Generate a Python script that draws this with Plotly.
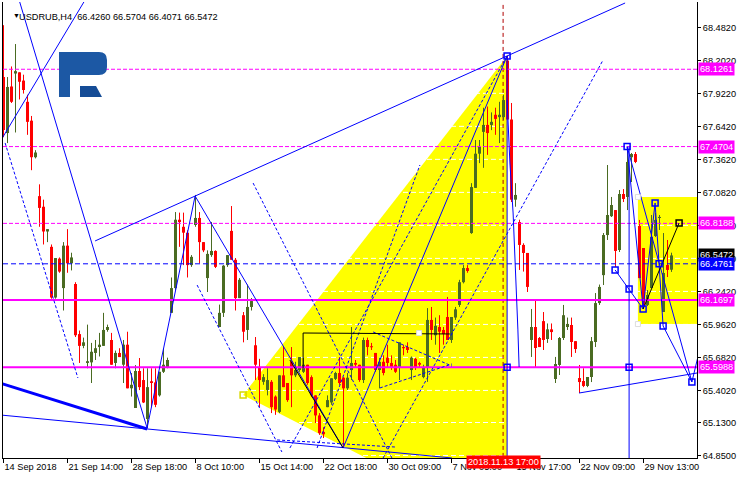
import plotly.graph_objects as go

# ---------------- candle data (USDRUB, H4) ----------------
opens = [68.06, 67.585, 67.98, 68.09, 68.10, 68.03, 67.85, 67.69, 67.38, 67.05,
         66.96, 66.75, 66.62, 66.19, 66.52, 66.27, 66.63, 66.48, 66.305, 65.88,
         65.78, 65.635, 65.64, 65.72, 65.77, 65.78, 65.915, 65.83, 65.635, 65.72,
         65.62, 65.79, 65.42, 65.253, 65.567, 65.49, 65.16, 65.48, 65.47, 65.36,
         65.56, 65.60, 66.06, 66.27, 66.85, 66.79, 66.74, 66.465, 66.805, 66.865,
         66.66, 66.355, 66.55, 66.585, 65.94, 66.06, 66.465, 66.755, 66.51, 66.185,
         66.04, 65.915, 66.11, 65.785, 65.60, 65.475, 65.406, 65.475, 65.35, 65.22,
         65.53, 65.465, 65.645, 65.53, 65.575, 65.56, 65.62, 65.515, 65.36, 65.19,
         65.05, 65.26, 65.30, 65.50, 65.55, 65.51, 65.42, 65.575, 65.635, 65.62,
         65.49, 65.83, 65.775, 65.72, 65.575, 65.645, 65.68, 65.635, 65.62, 65.60,
         65.77, 65.77, 65.575, 65.67, 65.635, 65.515, 65.60, 66.00, 65.87, 65.94,
         65.915, 66.025, 65.83, 66.02, 66.127, 66.32, 66.44, 66.737, 67.12, 67.41,
         67.595, 67.654, 67.654, 67.74, 67.72, 67.72, 68.20, 67.70, 67.02, 66.83,
         66.636, 66.568, 65.83, 65.94, 65.847, 65.99, 65.838, 65.92, 65.499, 65.618,
         65.847, 65.94, 65.957, 65.82, 65.507, 65.482, 65.44, 65.516, 65.813, 66.143,
         66.38, 66.72, 66.88, 66.932, 66.593, 67.068, 67.043, 67.38, 67.407, 66.797,
         66.61, 66.127, 66.271, 66.712, 66.865, 66.067, 66.466, 66.4260]
highs = [68.50, 68.06, 68.15, 68.34, 68.10, 68.08, 67.91, 67.73, 67.44, 67.15,
         67.02, 66.77, 66.64, 66.525, 66.53, 66.66, 66.77, 66.57, 66.32, 65.91,
         65.85, 65.96, 65.805, 65.83, 65.89, 66.06, 65.96, 65.89, 65.74, 65.76,
         65.83, 65.90, 65.55, 65.617, 65.677, 65.59, 65.59, 65.59, 65.59, 65.56,
         65.76, 65.68, 66.36, 66.915, 66.91, 66.91, 66.76, 66.55, 67.06, 66.915,
         66.66, 66.59, 66.83, 66.59, 66.13, 66.465, 66.55, 66.966, 66.525, 66.355,
         66.067, 66.30, 66.186, 65.855, 65.67, 65.54, 65.59, 65.49, 65.36, 65.53,
         65.77, 65.465, 65.77, 65.645, 65.685, 65.68, 65.62, 65.53, 65.36, 65.21,
         65.09, 65.36, 65.505, 65.56, 65.685, 65.515, 65.55, 65.94, 65.66, 65.62,
         65.85, 65.85, 65.805, 65.72, 65.68, 65.70, 65.79, 65.70, 65.66, 65.81,
         65.79, 65.81, 65.69, 65.68, 65.645, 65.62, 66.10, 66.11, 66.02, 66.04,
         65.94, 66.195, 66.025, 66.11, 66.34, 66.465, 66.465, 67.16, 67.526, 67.526,
         67.80, 67.81, 67.76, 67.80, 67.85, 67.91, 68.24, 67.84, 67.16, 66.85,
         66.65, 66.568, 66.093, 66.17, 65.855, 66.067, 65.97, 65.97, 65.686, 65.855,
         66.127, 66.02, 66.02, 65.82, 65.618, 65.59, 65.516, 65.855, 66.228, 66.30,
         66.737, 67.314, 67.043, 66.932, 67.102, 67.11, 67.4704, 67.416, 67.424, 66.848,
         66.61, 66.254, 66.89, 66.907, 66.89, 66.737, 66.678, 66.5704]
lows = [67.55, 67.50, 67.84, 67.59, 67.87, 67.92, 67.57, 67.27, 67.37, 66.79,
        66.64, 66.66, 66.18, 66.18, 66.40, 66.08, 66.40, 66.42, 65.855, 65.635,
        65.76, 65.59, 65.465, 65.66, 65.69, 65.78, 65.90, 65.62, 65.59, 65.685,
        65.465, 65.42, 65.35, 65.253, 65.405, 65.295, 65.08, 65.26, 65.26, 65.35,
        65.55, 65.59, 66.06, 66.255, 66.62, 66.465, 66.36, 66.45, 66.79, 66.48,
        66.575, 66.237, 66.535, 66.44, 65.94, 66.025, 66.45, 66.51, 66.08, 66.185,
        65.81, 65.83, 66.08, 65.49, 65.26, 65.45, 65.36, 65.21, 65.195, 65.21,
        65.43, 65.305, 65.26, 65.515, 65.56, 65.55, 65.45, 65.345, 65.125, 65.025,
        64.998, 65.26, 65.28, 65.49, 65.45, 64.914, 65.406, 65.49, 65.60, 65.475,
        65.465, 65.70, 65.745, 65.56, 65.42, 65.53, 65.60, 65.575, 65.55, 65.49,
        65.70, 65.72, 65.49, 65.575, 65.60, 65.505, 65.475, 65.83, 65.79, 65.72,
        65.79, 65.83, 65.805, 66.00, 66.11, 66.31, 66.40, 66.73, 67.12, 67.33,
        67.29, 67.40, 67.61, 67.57, 67.50, 67.696, 67.70, 67.00, 66.96, 66.424,
        66.41, 66.237, 65.686, 65.60, 65.77, 65.745, 65.805, 65.83, 65.465, 65.533,
        65.83, 65.915, 65.686, 65.72, 65.38, 65.43, 65.43, 65.473, 65.77, 66.127,
        66.296, 66.678, 66.873, 66.449, 66.576, 67.00, 66.932, 67.17, 67.33, 66.355,
        66.11, 66.118, 66.271, 66.703, 66.763, 66.067, 66.364, 66.4071]
closes = [67.61, 67.976, 67.85, 68.11, 68.02, 67.95, 67.68, 67.38, 67.42, 66.95,
          66.75, 66.77, 66.19, 66.525, 66.41, 66.63, 66.48, 66.53, 65.87, 65.78,
          65.81, 65.65, 65.73, 65.76, 65.79, 65.915, 65.94, 65.62, 65.72, 65.685,
          65.79, 65.42, 65.45, 65.567, 65.43, 65.30, 65.43, 65.465, 65.28, 65.56,
          65.62, 65.66, 66.27, 66.85, 66.83, 66.74, 66.465, 66.535, 66.865, 66.66,
          66.59, 66.56, 66.585, 66.45, 66.06, 66.46, 66.55, 66.51, 66.185, 66.34,
          65.90, 66.11, 66.16, 65.62, 65.49, 65.515, 65.49, 65.26, 65.24, 65.53,
          65.43, 65.32, 65.53, 65.575, 65.685, 65.62, 65.465, 65.36, 65.19, 65.04,
          65.03, 65.32, 65.505, 65.55, 65.465, 65.42, 65.51, 65.635, 65.62, 65.49,
          65.83, 65.77, 65.77, 65.575, 65.645, 65.55, 65.635, 65.60, 65.56, 65.81,
          65.76, 65.745, 65.68, 65.60, 65.62, 65.60, 66.00, 65.915, 65.95, 65.90,
          65.88, 65.83, 66.025, 66.09, 66.32, 66.44, 66.415, 67.127, 67.41, 67.47,
          67.654, 67.585, 67.68, 67.705, 67.74, 67.865, 67.70, 67.02, 67.06, 66.636,
          66.568, 66.28, 65.94, 65.762, 65.77, 65.83, 65.92, 65.897, 65.626, 65.847,
          66.04, 65.966, 65.813, 65.753, 65.473, 65.44, 65.516, 65.82, 66.143, 66.28,
          66.72, 66.89, 66.975, 66.585, 67.068, 67.026, 67.34, 67.407, 67.34, 66.355,
          66.11, 66.211, 66.703, 66.848, 66.873, 66.398, 66.424, 66.5472]
bars = list(range(len(opens)))

symbol = "USDRUB,H4"
x_tick_bars = [0, 16, 32, 48, 64, 80, 96, 112, 128, 144, 160]
x_tick_labels = ["14 Sep 2018", "21 Sep 14:00", "28 Sep 18:00", "8 Oct 10:00",
                 "15 Oct 14:00", "22 Oct 18:00", "30 Oct 09:00", "7 Nov 05:00",
                 "15 Nov 17:00", "22 Nov 09:00", "29 Nov 13:00"]
y_tick_values = [68.4820, 68.2020, 67.9220, 67.6420, 67.3620, 67.0820, 66.8020,
                 66.5220, 66.2420, 65.9620, 65.6820, 65.4020, 65.1300, 64.8500]

levels_magenta_dashed = [68.1261, 67.4704, 66.8188]
level_blue_dashed = 66.4761
levels_magenta_solid = [66.1697, 65.5988]

marked_bar = 124.9
marked_label = "2018.11.13 17:00"

# ---------------- drawing objects (bar index, price) ----------------
yellow_triangle_x = [59.9, 125.9, 125.9]
yellow_triangle_y = [65.363, 68.239, 64.218]
yellow_box_x = [158.6, 176.0]
yellow_box_y = [65.965, 67.043]

blue_solid = [
    ([22.9, 155.4], [66.670, 68.688]),
    ([3.9, 35.9], [68.714, 65.083]),
    ([-0.9, 20.4], [67.509, 68.714]),
    ([-0.9, 112.1], [65.194, 64.829]),
    ([35.9, 47.9, 84.9, 125.9], [65.083, 67.051, 64.914, 68.239]),
    ([125.9, 125.9], [68.239, 64.5]),
    ([125.9, 126.6, 127.4, 127.9, 128.4, 128.6, 128.9],
     [67.866, 67.331, 66.907, 66.483, 66.195, 65.915, 65.601]),
    ([152.9, 159.9], [66.424, 66.093]),
    ([155.9, 159.9], [67.470, 66.093]),
    ([155.9, 172.1], [67.470, 65.474]),
    ([159.9, 162.9, 164.9, 172.1, 173.6], [66.093, 66.992, 65.949, 65.474, 65.686]),
    ([156.4, 156.4], [67.470, 64.5]),
    ([143.9, 173.4], [65.380, 65.550]),
]
blue_thick = [([-0.9, 35.9], [65.465, 65.075])]
blue_dashed = [
    ([0.4, 18.6], [67.501, 65.508]),
    ([48.4, 69.6], [66.296, 64.880]),
    ([62.4, 97.1], [67.161, 64.829]),
    ([94.9, 149.9], [64.829, 68.205]),
    ([71.6, 125.9], [64.914, 68.239]),
    ([78.4, 104.1], [64.914, 67.314]),
    ([92.4, 112.1], [65.898, 65.609]),
    ([94.1, 112.1], [65.423, 65.626]),
    ([68.4, 97.9], [64.982, 64.922]),
]
black_lines = [
    ([74.9, 111.6], [65.889, 65.881]),
    ([74.9, 74.9], [65.889, 65.592]),
    ([71.6, 84.9], [65.660, 64.914]),
    ([159.9, 168.9], [66.093, 66.822]),
]
blue_points_x = [125.9, 125.9, 155.9, 152.9, 156.4, 156.4, 159.9, 162.9, 163.9, 164.9, 172.1]
blue_points_y = [68.239, 65.599, 67.470, 66.424, 66.262, 65.599, 66.093, 66.992, 66.476, 65.949, 65.474]
white_points_x = [103.9, 158.6, 158.6]
white_points_y = [65.889, 67.043, 65.965]

GREEN = "#4a6b22"
RED = "#ff0000"
BLUE = "#0000ff"
MAGENTA = "#ff00ff"
FONT = "Liberation Sans"
FS = 9.2

X0, X1 = -0.125, 173.375
Y0, Y1 = 64.8289, 68.6966
MIN_BODY = 0.009  # about one pixel, so doji bodies stay visible

fig = go.Figure()

def seg(lines):
    xs, ys = [], []
    for lx, ly in lines:
        xs += list(lx) + [None]
        ys += list(ly) + [None]
    return xs, ys

# yellow areas
fig.add_trace(go.Scatter(x=yellow_triangle_x + [yellow_triangle_x[0]],
                         y=yellow_triangle_y + [yellow_triangle_y[0]],
                         fill="toself", fillcolor="#ffff00", mode="lines",
                         line=dict(width=0), hoverinfo="skip"))
fig.add_trace(go.Scatter(x=[yellow_box_x[0], yellow_box_x[1], yellow_box_x[1], yellow_box_x[0], yellow_box_x[0]],
                         y=[yellow_box_y[0], yellow_box_y[0], yellow_box_y[1], yellow_box_y[1], yellow_box_y[0]],
                         fill="toself", fillcolor="#ffff00", mode="lines",
                         line=dict(width=0), hoverinfo="skip"))
# white grid (visible only over yellow)
gx, gy = seg([([X0, X1], [v, v]) for v in y_tick_values])
fig.add_trace(go.Scatter(x=gx, y=gy, mode="lines",
                         line=dict(color="white", width=1, dash="5px,3px"), hoverinfo="skip"))

# marked time vertical
fig.add_trace(go.Scatter(x=[marked_bar, marked_bar], y=[Y0 - 1, Y1 + 1], mode="lines",
                         line=dict(color="#b00000", width=1, dash="4px,3px"), hoverinfo="skip"))

# candles: wicks + bodies (drawn as line segments on the price scale)
for up, color in [(True, GREEN), (False, RED)]:
    idx = [i for i in bars if (closes[i] > opens[i]) == up]
    wx, wy, bx, by = [], [], [], []
    for i in idx:
        wx += [i, i, None]
        wy += [lows[i], highs[i], None]
        lo, hi = min(opens[i], closes[i]), max(opens[i], closes[i])
        if hi - lo < MIN_BODY:
            mid = (hi + lo) / 2
            lo, hi = mid - MIN_BODY / 2, mid + MIN_BODY / 2
        bx += [i, i, None]
        by += [lo, hi, None]
    fig.add_trace(go.Scatter(x=wx, y=wy, mode="lines", line=dict(color=color, width=1),
                             hoverinfo="skip"))
    fig.add_trace(go.Scatter(x=bx, y=by, mode="lines", line=dict(color=color, width=3),
                             hoverinfo="skip"))

# horizontal levels
for v in levels_magenta_dashed:
    fig.add_trace(go.Scatter(x=[X0, X1], y=[v, v], mode="lines",
                             line=dict(color=MAGENTA, width=1, dash="4px,2px"), hoverinfo="skip"))
fig.add_trace(go.Scatter(x=[X0, X1], y=[level_blue_dashed] * 2, mode="lines",
                         line=dict(color=BLUE, width=1, dash="5px,3px"), hoverinfo="skip"))
for v in levels_magenta_solid:
    fig.add_trace(go.Scatter(x=[X0, X1], y=[v, v], mode="lines",
                             line=dict(color=MAGENTA, width=2), hoverinfo="skip"))

# drawing lines
for group, color, width, dash in [(blue_solid, BLUE, 1, "solid"),
                                  (blue_thick, BLUE, 3, "solid"),
                                  (blue_dashed, BLUE, 1, "3px,2px"),
                                  (black_lines, "black", 1, "solid")]:
    sx, sy = seg(group)
    fig.add_trace(go.Scatter(x=sx, y=sy, mode="lines",
                             line=dict(color=color, width=width, dash=dash), hoverinfo="skip"))

fig.add_trace(go.Scatter(x=blue_points_x, y=blue_points_y, mode="markers",
                         marker=dict(symbol="square-open", size=6, color=BLUE, line=dict(width=1.5)),
                         hoverinfo="skip", cliponaxis=False))
fig.add_trace(go.Scatter(x=white_points_x, y=white_points_y, mode="markers",
                         marker=dict(symbol="square", size=5, color="white", line=dict(width=1, color="#dddddd")),
                         hoverinfo="skip"))
fig.add_trace(go.Scatter(x=[168.9], y=[66.822], mode="markers",
                         marker=dict(symbol="square-open", size=6, color="black", line=dict(width=1.5)),
                         hoverinfo="skip"))
fig.add_trace(go.Scatter(x=[yellow_triangle_x[0]], y=[yellow_triangle_y[0]], mode="markers",
                         marker=dict(symbol="square-open", size=6, color="#d8d800", line=dict(width=1.5)),
                         hoverinfo="skip"))

# ---------------- logo (pixel-space decoration) ----------------
L, T, W, H = 3, 2, 694, 456
def P(px, py):
    return f"{(px - L) / W:.5f},{(T + H - py) / H:.5f}"
logo_main = (f"M{P(59,52)} L{P(99,52)} Q{P(107,52)} {P(107,60)} L{P(107,67)} "
             f"Q{P(107,75)} {P(99,75)} L{P(70,75)} L{P(70,97)} L{P(59,97)} Z")
logo_leg = f"M{P(80,86)} L{P(96,86)} L{P(102,97)} L{P(80,97)} Z"
shapes = [dict(type="path", path=logo_main, xref="paper", yref="paper",
               fillcolor="#1c58a4", line=dict(width=0), layer="above"),
          dict(type="path", path=logo_leg, xref="paper", yref="paper",
               fillcolor="#154c96", line=dict(width=0), layer="above")]

def px_x(px):
    return (px - L) / W
def px_y(py):
    return (T + H - py) / H

annotations = [
    dict(x=px_x(11), y=px_y(10), xref="paper", yref="paper", text="▼", showarrow=False,
         font=dict(family=FONT, size=7, color="black")),
    dict(x=px_x(17), y=px_y(10), xref="paper", yref="paper", xanchor="left",
         text=f"{symbol}  {opens[-1]:.4f} {highs[-1]:.4f} {lows[-1]:.4f} {closes[-1]:.4f}",
         showarrow=False, font=dict(family=FONT, size=FS, color="black")),
    dict(x=marked_bar, y=px_y(469), xref="x", yref="paper", text=marked_label,
         showarrow=False, bgcolor="#ff0000", borderpad=1,
         font=dict(family=FONT, size=FS, color="white")),
]
for v, bg in [(68.1261, MAGENTA), (67.4704, MAGENTA), (66.8188, MAGENTA),
              (closes[-1], "black"), (level_blue_dashed, BLUE),
              (66.1697, MAGENTA), (65.5988, MAGENTA)]:
    annotations.append(dict(x=px_x(698), y=v, xref="paper", yref="y", xanchor="left",
                            text=f"{v:.4f}", showarrow=False, bgcolor=bg, borderpad=1,
                            font=dict(family=FONT, size=FS, color="white")))

fig.update_layout(
    width=740, height=480,
    margin=dict(l=L, r=740 - L - W, t=T, b=480 - T - H, autoexpand=False),
    paper_bgcolor="white", plot_bgcolor="white",
    showlegend=False,
    shapes=shapes, annotations=annotations,
    xaxis=dict(range=[X0, X1], tickvals=x_tick_bars, ticktext=x_tick_labels,
               tickangle=0, automargin=False,
               ticks="outside", ticklen=4, tickcolor="black", showgrid=False,
               showline=True, linecolor="black", linewidth=1, zeroline=False,
               ticklabelposition="outside right",
               tickfont=dict(family=FONT, size=FS, color="black")),
    yaxis=dict(range=[Y0, Y1], side="right", tickvals=y_tick_values,
               ticktext=[f"{v:.4f}" for v in y_tick_values], automargin=False,
               ticks="outside", ticklen=3, tickcolor="black", showgrid=False,
               showline=True, mirror=True, linecolor="black", linewidth=1,
               zeroline=False, tickfont=dict(family=FONT, size=FS, color="black")),
)

fig.write_html("out.html", config={"displayModeBar": False},
               post_script="document.body.style.margin='0';document.body.style.overflow='hidden';")
